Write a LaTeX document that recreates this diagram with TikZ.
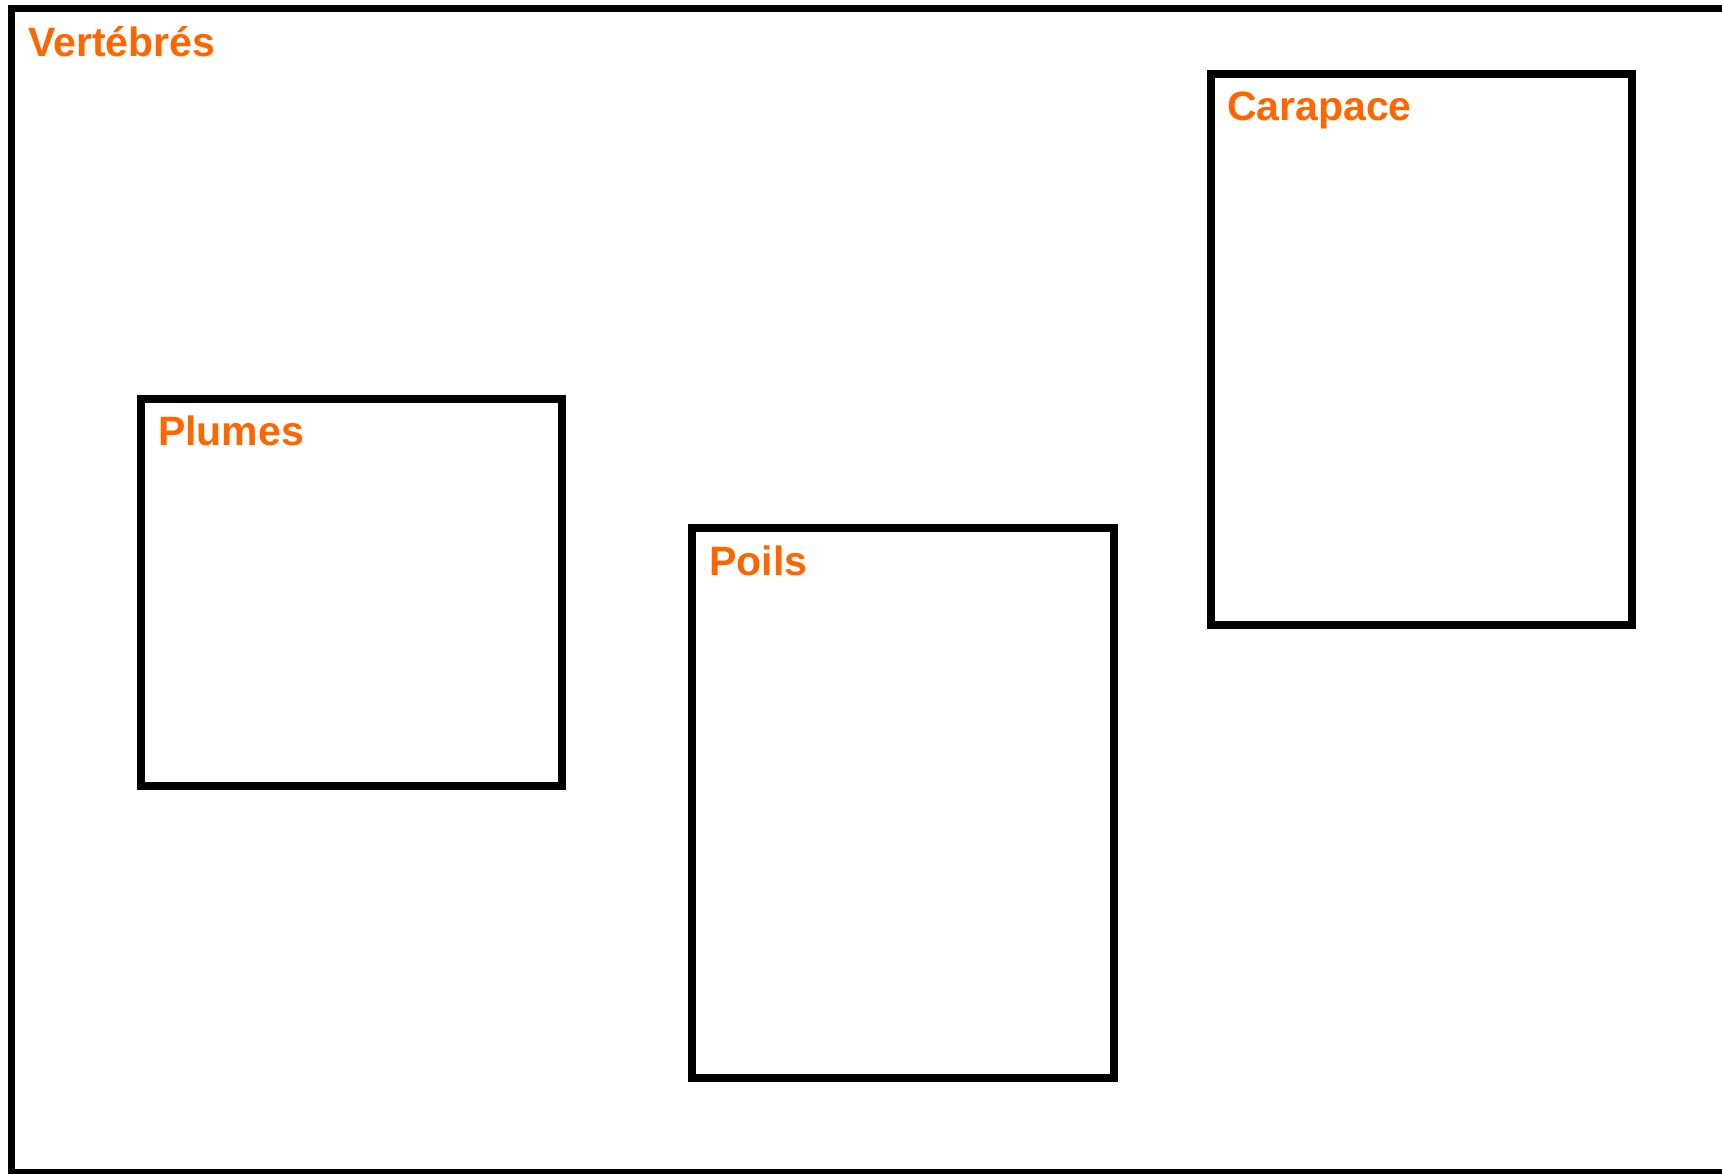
\documentclass[tikz,border=0pt]{standalone}
\usepackage{fontspec}
\setmainfont{Liberation Sans}
\definecolor{lbl}{RGB}{255,102,0}
\begin{document}
\begin{tikzpicture}[x=1pt,y=-1pt,
  box/.style={draw=black,line width=7.5pt,rectangle,inner sep=0pt,outer sep=0pt,anchor=north west},
  lab/.style={text=lbl,font=\fontsize{41}{46}\selectfont\bfseries,anchor=base west,inner sep=0pt}]
\useasboundingbox (0,0) rectangle (1722,1174);
\clip (0,0) rectangle (1722,1174);
\fill[white] (0,0) rectangle (1722,1174);
\coordinate (o1) at (1740,8.5);
\coordinate (o2) at (11.5,8.5);
\coordinate (o3) at (11.5,1172.5);
\coordinate (o4) at (1740,1172.5);
\draw[line width=7.5pt] (o1) -- (o2) -- (o3) -- (o4);
\node[lab] (vert) at ([xshift=16.5pt,yshift=-48pt]o2) {Vertébrés};
\node[box,minimum width=421pt,minimum height=387pt] (plumes) at (141,399) {};
\node[box,minimum width=422pt,minimum height=550pt] (poils) at (692,528) {};
\node[box,minimum width=421pt,minimum height=551pt] (carapace) at (1211,74) {};
\node[lab] (lplumes) at ([xshift=17pt,yshift=-46.5pt]plumes.north west) {Plumes};
\node[lab] (lpoils) at ([xshift=17pt,yshift=-47.5pt]poils.north west) {Poils};
\node[lab] (lcarapace) at ([xshift=16pt,yshift=-46.5pt]carapace.north west) {Carapace};
\end{tikzpicture}
\end{document}
